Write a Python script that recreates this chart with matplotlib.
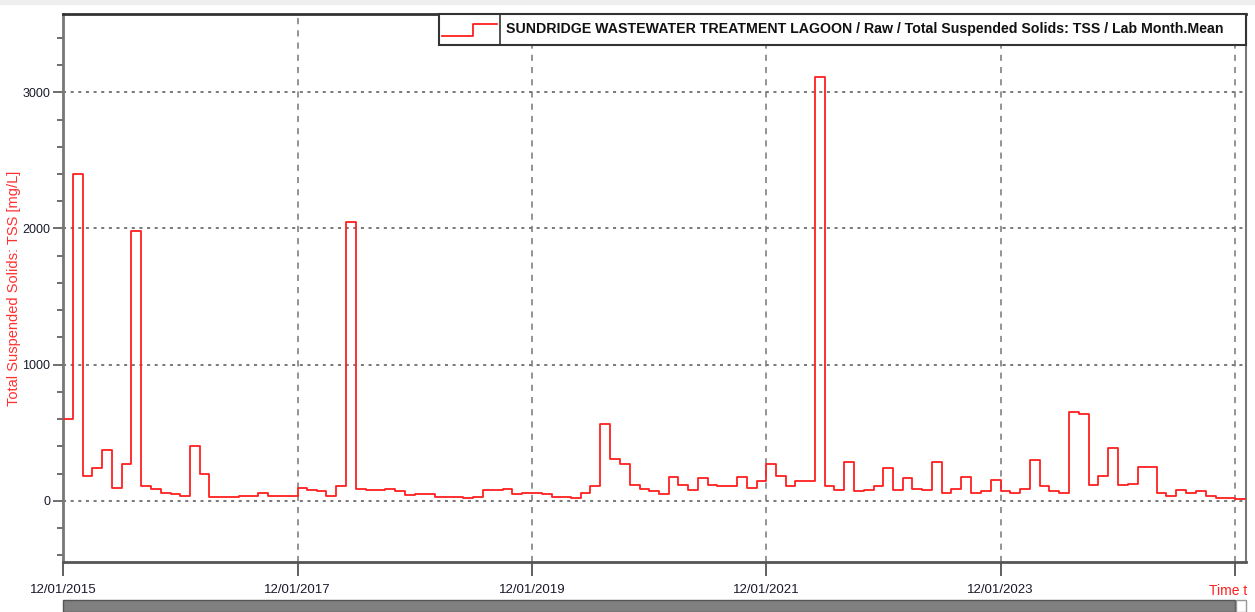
import matplotlib
matplotlib.use("Agg")
import matplotlib.pyplot as plt
from matplotlib.patches import Rectangle
from matplotlib.lines import Line2D
import pandas as pd

# monthly mean TSS [mg/L], Dec 2015 .. Dec 2025
tss_2015_2017 = [600, 2400, 183, 240, 374, 95, 269, 1980, 105, 88, 59, 49,
                 37, 401, 193, 29, 29, 29, 37, 37, 56, 37, 37, 37]
tss_2017_2019 = [95, 78, 68, 37, 105, 2050, 86, 76, 76, 88, 68, 39,
                 46, 46, 29, 29, 29, 20, 29, 78, 78, 88, 46, 56]
tss_2019_2021 = [56, 49, 29, 29, 20, 56, 105, 567, 306, 267, 115, 88,
                 68, 46, 174, 115, 78, 164, 115, 105, 105, 174, 95, 147]
tss_2021_2023 = [267, 183, 105, 144, 144, 3110, 105, 78, 281, 68, 78, 105,
                 240, 78, 164, 88, 78, 281, 56, 88, 174, 56, 68, 154]
tss_2023_2025 = [68, 56, 88, 298, 105, 68, 56, 653, 636, 115, 183, 384,
                 115, 125, 250, 250, 56, 37, 78, 56, 68, 37, 20, 20, 10]

tss = tss_2015_2017 + tss_2017_2019 + tss_2019_2021 + tss_2021_2023 + tss_2023_2025
months = pd.date_range("2015-12-01", periods=len(tss), freq="MS")

tick_dates = pd.to_datetime(["2015-12-01", "2017-12-01", "2019-12-01",
                             "2021-12-01", "2023-12-01", "2025-12-01"])
tick_labels = ["12/01/2015", "12/01/2017", "12/01/2019", "12/01/2021", "12/01/2023", ""]

legend_text = "SUNDRIDGE WASTEWATER TREATMENT LAGOON / Raw / Total Suspended Solids: TSS / Lab Month.Mean"
ylabel = "Total Suspended Solids: TSS [mg/L]"

narrow = ["Liberation Sans Narrow", "Liberation Sans", "DejaVu Sans"]

fig = plt.figure(figsize=(12.55, 6.12), dpi=100)
ax = fig.add_axes([63 / 1255, 1 - 562 / 612, (1246 - 63) / 1255, (562 - 14) / 612])

# step line, extended to the end of the last month
xs = list(months) + [pd.Timestamp("2026-01-01")]
ys = tss + [tss[-1]]
ax.step(xs, ys, where="post", color="#ff2020", lw=1.3, zorder=3)

ax.set_xlim(pd.Timestamp("2015-12-01"), pd.Timestamp("2026-01-04"))
ax.set_ylim(-450, 3575)

ax.set_yticks([0, 1000, 2000, 3000])
ax.set_yticks(range(-400, 3600, 200), minor=True)
ax.set_xticks(tick_dates)
ax.set_xticklabels(tick_labels)

for lab in ax.get_yticklabels():
    lab.set_family(narrow)
    lab.set_fontsize(9)
    lab.set_color("#1a1a2a")
for lab in ax.get_xticklabels():
    lab.set_family(narrow)
    lab.set_fontsize(9.5)
    lab.set_color("#1a1a2a")

ax.tick_params(axis="y", which="major", direction="out", length=7, width=1.2, color="#555555", pad=2)
ax.tick_params(axis="y", which="minor", direction="out", length=4, width=1.2, color="#555555")
ax.tick_params(axis="x", which="major", direction="out", length=10, width=1.2, color="#444444", pad=6)

# grids: dotted horizontals, dashed verticals
for v in [0, 1000, 2000, 3000]:
    ax.axhline(v, color="#555555", lw=1.1, ls=(0, (2, 3)), zorder=1)
for d in tick_dates[1:]:
    ax.axvline(d, color="#777777", lw=1.1, ls=(0, (4, 4)), zorder=1)

ax.spines["top"].set_color("#333333")
ax.spines["top"].set_linewidth(2)
ax.spines["left"].set_color("#777777")
ax.spines["left"].set_linewidth(2)
ax.spines["bottom"].set_color("#555555")
ax.spines["bottom"].set_linewidth(2)
ax.spines["right"].set_color("#777777")
ax.spines["right"].set_linewidth(1.5)

ax.annotate("Time t", xy=(tick_dates[-1], 0), xycoords=("data", "axes fraction"),
            xytext=(-5, -21), textcoords="offset points", ha="center", va="center",
            color="#ff2020", fontsize=10, family=narrow)

fig.text(14 / 1255, 1 - 288 / 612, ylabel, rotation=90, ha="center", va="center",
         color="#ff3030", fontsize=10.5, family=["Liberation Sans", "DejaVu Sans"])

# legend box at the top right
lx0, lx1, ldiv = 439 / 1255, 1246 / 1255, 500 / 1255
ly0, ly1 = 1 - 45 / 612, 1 - 14 / 612
fig.patches.append(Rectangle((lx0, ly0), lx1 - lx0, ly1 - ly0, transform=fig.transFigure,
                             facecolor="white", edgecolor="#333333", lw=1.5, zorder=5))
fig.lines.append(Line2D([ldiv, ldiv], [ly0, ly1], transform=fig.transFigure, color="#333333", lw=1.2, zorder=6))
sx = [442 / 1255, 473 / 1255, 473 / 1255, 497 / 1255]
sy = [1 - 36 / 612, 1 - 36 / 612, 1 - 24 / 612, 1 - 24 / 612]
fig.lines.append(Line2D(sx, sy, transform=fig.transFigure, color="#ff2020", lw=1.3, zorder=6))
fig.text(506 / 1255, (ly0 + ly1) / 2, legend_text, ha="left", va="center", fontsize=10.2,
         fontweight="bold", color="#111111", family=narrow, zorder=7)

# window chrome: light band on top, scrollbar at bottom
fig.patches.append(Rectangle((0, 1 - 5 / 612), 1, 5 / 612, transform=fig.transFigure,
                             facecolor="#eeeeee", edgecolor="none"))
fig.patches.append(Rectangle((63 / 1255, 0), (1235 - 63) / 1255, 12 / 612, transform=fig.transFigure,
                             facecolor="#808080", edgecolor="#555555", lw=1))
fig.patches.append(Rectangle((1236 / 1255, 0), 10 / 1255, 12 / 612, transform=fig.transFigure,
                             facecolor="white", edgecolor="#999999", lw=1))

fig.savefig("out.png", dpi=100)
